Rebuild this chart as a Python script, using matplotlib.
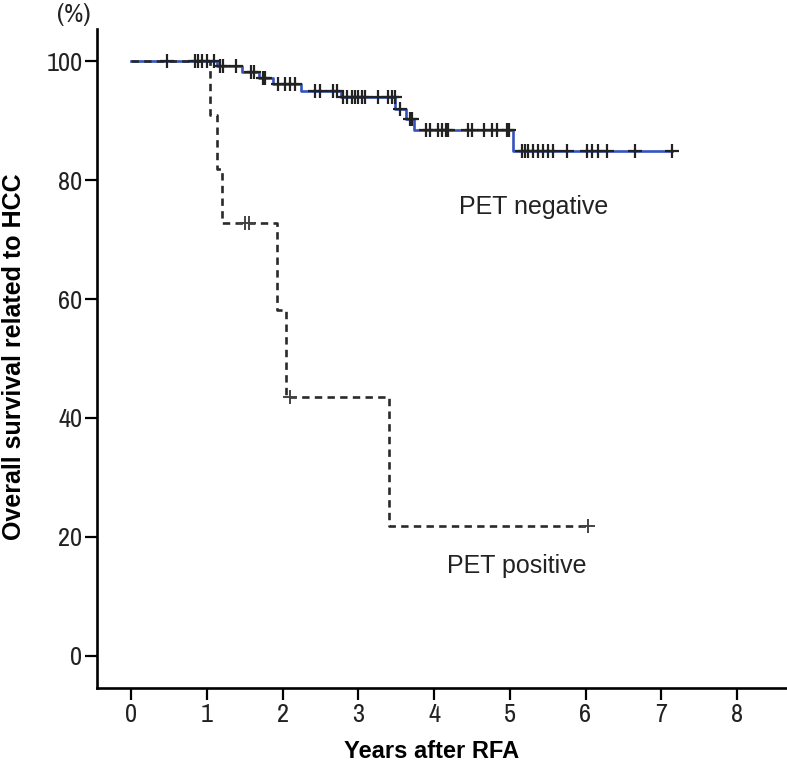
import matplotlib.pyplot as plt
import numpy as np

# ---------------- data ----------------
# PET negative (solid blue, Kaplan-Meier steps)
neg_t = [0, 1.13, 1.47, 1.69, 1.88, 2.24, 2.77, 3.49, 3.63, 3.73, 5.04, 7.14]
neg_s = [100, 99.2, 98.2, 97.1, 96.1, 95.0, 93.9, 91.9, 90.3, 88.5, 84.9, 84.9]
neg_cens = [0.47, 0.85, 0.89, 0.93, 1.00, 1.10, 1.17, 1.21, 1.38, 1.58, 1.62,
            1.74, 1.77, 1.94, 2.03, 2.10, 2.16, 2.43, 2.50, 2.67, 2.72, 2.80,
            2.85, 2.92, 2.96, 3.00, 3.05, 3.09, 3.26, 3.39, 3.45, 3.48, 3.55,
            3.68, 3.71, 3.90, 3.95, 4.05, 4.10, 4.16, 4.19, 4.45, 4.50, 4.66,
            4.76, 4.83, 4.96, 4.99, 5.16, 5.20, 5.24, 5.31, 5.37, 5.44, 5.50,
            5.57, 5.75, 6.02, 6.08, 6.17, 6.28, 6.65, 7.14]

# PET positive (dashed black)
pos_t = [0, 1.04, 1.14, 1.20, 1.92, 2.05, 3.41, 6.03]
pos_s = [100, 90.9, 81.8, 72.7, 58.2, 43.6, 21.8, 21.8]
pos_cens = [1.50, 1.56, 2.10, 6.03]

xticks = [0, 1, 2, 3, 4, 5, 6, 7, 8]
yticks = [0, 20, 40, 60, 80, 100]


def surv_at(t, times, surv):
    idx = np.searchsorted(times, t, side="right") - 1
    return np.array(surv)[idx]


fig = plt.figure(figsize=(7.87, 7.68), dpi=100)
ax = fig.add_axes([97 / 787, 1 - 688 / 768, 1 - 97 / 787, (688 - 29) / 768])

ax.step(neg_t, neg_s, where="post", color="#3354bc", lw=1.9, zorder=3)
ax.plot(neg_cens, surv_at(neg_cens, neg_t, neg_s), ls="none", marker="+",
        ms=10, mew=1.6, color="#222222", zorder=4)

ax.step(pos_t, pos_s, where="post", color="#2a2a2a", lw=1.9,
        ls=(0, (2.8, 2.0)), zorder=3)
ax.plot(pos_cens, surv_at(pos_cens, pos_t, pos_s), ls="none", marker="+",
        ms=10, mew=1.4, color="#444444", zorder=4)

ax.set_xlim(-0.45, 8.66)
ax.set_ylim(-5.4, 105.4)
ax.set_xticks(xticks)
ax.set_yticks(yticks)

# narrow face for the numbers, like the original
tick_font = ["Archivo Narrow", "Roboto Condensed", "Liberation Sans", "DejaVu Sans"]
ax.set_xticklabels([str(v) for v in xticks], family=tick_font, fontsize=19,
                   color="#222222")
ax.set_yticklabels([str(v) for v in yticks], family=tick_font, fontsize=19,
                   color="#222222")
ax.tick_params(direction="out", length=8.5, width=1.6, pad=2)

ax.spines["right"].set_visible(False)
ax.spines["top"].set_visible(False)
ax.spines["left"].set_linewidth(1.9)
ax.spines["bottom"].set_linewidth(1.9)

fig.text(74 / 787, 1 - 15 / 768, "(%)", family=tick_font, fontsize=19,
         ha="center", va="center", color="#222222")
fig.text(14 / 787, 1 - 357 / 768, "Overall survival related to HCC",
         family=["Liberation Sans", "DejaVu Sans"], fontsize=18,
         fontweight="bold", rotation=90, ha="center", va="center")
fig.text(432 / 787, 1 - 751 / 768, "Years after RFA",
         family=["Liberation Sans", "DejaVu Sans"], fontsize=17,
         fontweight="bold", ha="center", va="center")

ax.text(5.31, 75.5, "PET negative", family=["Liberation Sans", "DejaVu Sans"],
        fontsize=18, ha="center", va="center", color="#222222")
ax.text(5.09, 15.1, "PET positive", family=["Liberation Sans", "DejaVu Sans"],
        fontsize=18, ha="center", va="center", color="#222222")

plt.savefig("out.png", dpi=100)
